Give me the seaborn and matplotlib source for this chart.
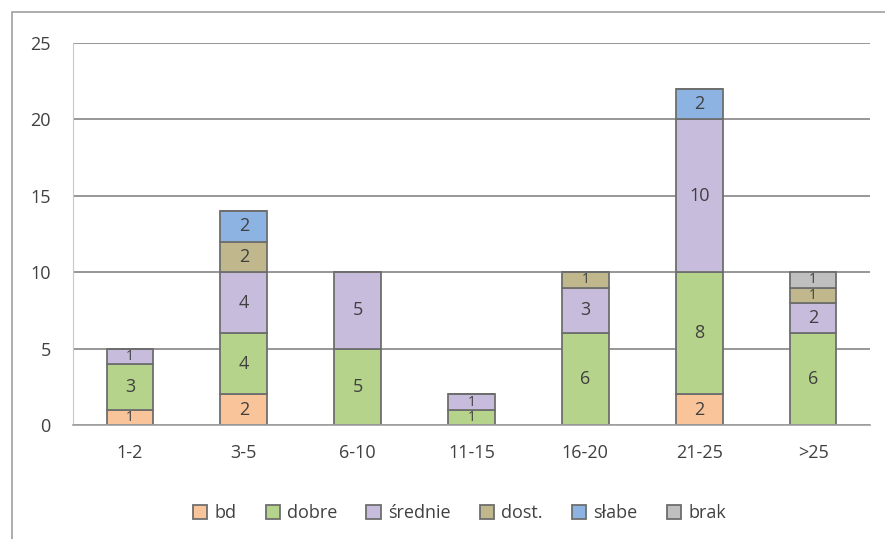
import numpy as np
import pandas as pd
import matplotlib.pyplot as plt
import seaborn as sns
from matplotlib.patches import Rectangle

# dane
kategorie = ['1-2', '3-5', '6-10', '11-15', '16-20', '21-25', '>25']
bd = [1, 2, 0, 0, 0, 2, 0]
dobre = [3, 4, 5, 1, 6, 8, 6]
srednie = [1, 4, 5, 1, 3, 10, 2]
dost = [0, 2, 0, 0, 1, 0, 1]
slabe = [0, 2, 0, 0, 0, 2, 0]
brak = [0, 0, 0, 0, 0, 0, 1]

serie = {'bd': bd, 'dobre': dobre, 'średnie': srednie,
         'dost.': dost, 'słabe': slabe, 'brak': brak}
kolory = {'bd': '#F9C49A', 'dobre': '#B5D38A', 'średnie': '#C8BCDD',
          'dost.': '#C0B88C', 'słabe': '#8DB3E2', 'brak': '#BFBFBF'}

sns.set_style('white')
plt.rcParams['font.family'] = ['Open Sans', 'DejaVu Sans']

fig = plt.figure(figsize=(8.85, 5.39), dpi=100)
ax = fig.add_axes([0.0825, 0.2115, 0.9005, 0.7085])

# ramka wykresu
fig.patches.append(Rectangle((12 / 885, -0.01), 1.0, 1 - 12 / 539 + 0.01,
                             transform=fig.transFigure, fill=False,
                             edgecolor='#A0A0A0', linewidth=1.2))

dol = np.zeros(len(kategorie))
for nazwa, wartosci in serie.items():
    df = pd.DataFrame({'kat': kategorie, 'val': wartosci})
    sns.barplot(data=df, x='kat', y='val', order=kategorie, bottom=dol,
                color=kolory[nazwa], edgecolor='#6E6E6E', linewidth=1.3,
                width=0.41, saturation=1, ax=ax, label=nazwa)
    for i, v in enumerate(wartosci):
        if v > 0:
            # male segmenty -> mniejsza czcionka
            ax.text(i, dol[i] + v / 2, str(v), ha='center', va='center',
                    fontsize=13 if v > 1 else 10, color='#404040')
    dol = dol + np.array(wartosci)

ax.set_ylim(0, 25)
ax.set_xlim(-0.5, 6.5)
ax.set_yticks(range(0, 26, 5))
ax.yaxis.grid(True, color='#858585', linewidth=1.2)
ax.set_axisbelow(True)
ax.set_xlabel('')
ax.set_ylabel('')
for s in ['top', 'right']:
    ax.spines[s].set_visible(False)
ax.spines['left'].set_color('#C8C8C8')
ax.spines['bottom'].set_color('#A0A0A0')
ax.spines['bottom'].set_linewidth(1.2)
ax.tick_params(axis='x', length=0, labelsize=13, labelcolor='#404040', pad=14)
ax.tick_params(axis='y', length=0, labelsize=13, labelcolor='#404040', pad=16)
ax.set_xticks(np.arange(-0.5, 7, 1), minor=True)
ax.tick_params(axis='x', which='minor', length=6, color='#A0A0A0', direction='out')

ax.legend(loc='upper center', bbox_to_anchor=(0.485, -0.165), ncol=6,
          frameon=False, fontsize=13, handlelength=0.8, handleheight=0.8,
          handletextpad=0.4, columnspacing=1.6, labelcolor='#404040')

fig.savefig('out.png', dpi=100)
